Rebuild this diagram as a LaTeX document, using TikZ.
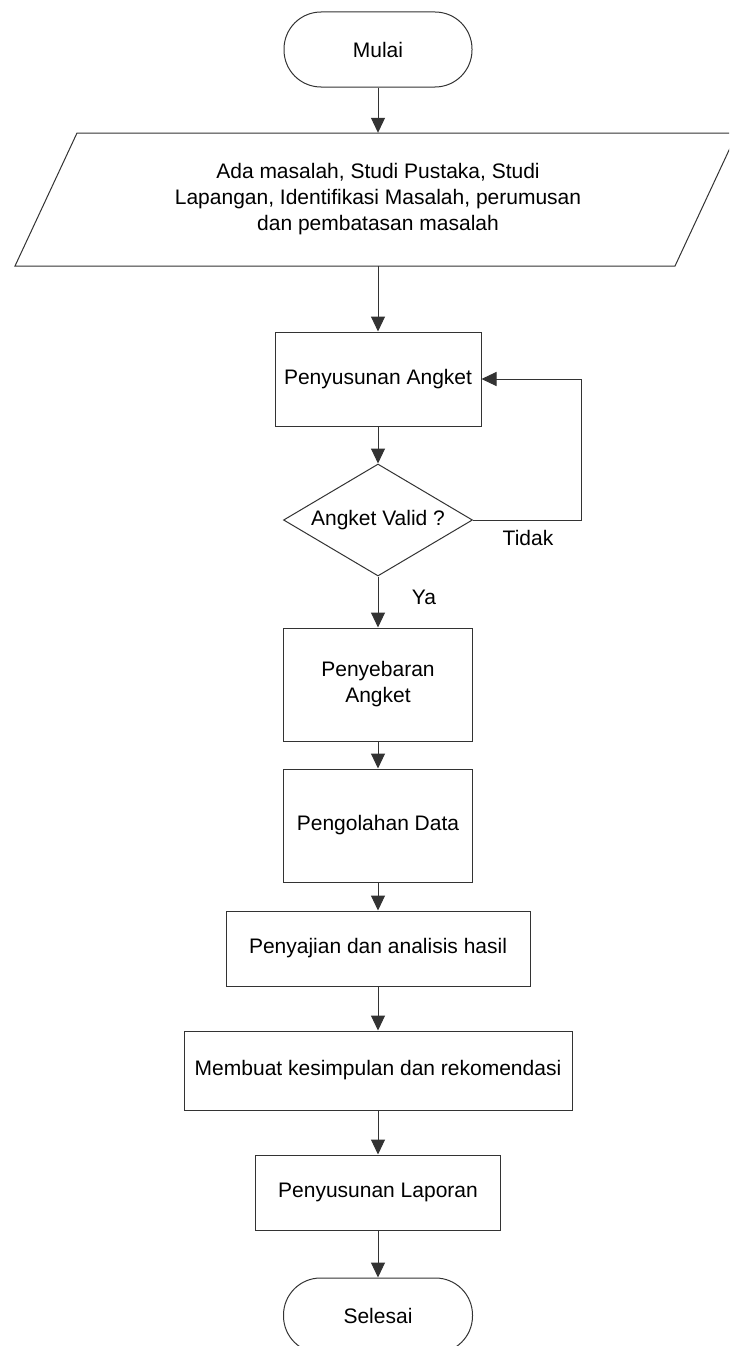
\documentclass[tikz,border=0pt]{standalone}
\usepackage{fontspec}
\setmainfont{Liberation Sans}
\usetikzlibrary{arrows.meta,shapes.geometric}
\begin{document}
\begin{tikzpicture}[x=1pt,y=-1pt,
  line/.style={draw=black!80, line width=1pt},
  txt/.style={font=\fontsize{21}{26}\selectfont, align=center, inner sep=0pt},
  box/.style={line, txt, rectangle},
  term/.style={box, rounded corners=37pt},
  decision/.style={line, txt, diamond, aspect=1.69},
  arr/.style={line, -{Triangle[length=15pt,width=14pt]}}]
\useasboundingbox (0,0) rectangle (729,1346);
\clip (0,0) rectangle (729,1346);
\fill[white] (0,0) rectangle (729,1346);

\node[term, minimum width=188pt, minimum height=75pt] (mulai) at (378,49.5) {Mulai};
\node[txt, minimum width=500pt, minimum height=133pt] (input) at (378,199.5)
  {Ada masalah, Studi Pustaka, Studi\\Lapangan, Identifikasi Masalah, perumusan\\dan pembatasan masalah};
\draw[line] (77,133) -- (737,133) -- (675,266) -- (15,266) -- cycle;
\node[box, minimum width=206pt, minimum height=94pt] (susun) at (378,379) {Penyusunan Angket};
\node[decision, minimum width=189pt, minimum height=112pt] (valid) at (378,520) {Angket Valid ?};
\node[box, minimum width=189pt, minimum height=113pt] (sebar) at (378,684.5) {Penyebaran\\Angket};
\node[box, minimum width=189pt, minimum height=113pt] (olah) at (378,825.5) {Pengolahan Data};
\node[box, minimum width=304pt, minimum height=75pt] (saji) at (378,948.5) {Penyajian dan analisis hasil};
\node[box, minimum width=388pt, minimum height=79pt] (simpul) at (378,1070.5) {Membuat kesimpulan dan rekomendasi};
\node[box, minimum width=245pt, minimum height=75pt] (lapor) at (378,1192.5) {Penyusunan Laporan};
\node[term, minimum width=189pt, minimum height=75pt] (selesai) at (378,1315.5) {Selesai};

\node[txt] (tidak) at (528,538) {Tidak};
\node[txt] (ya) at (424,597) {Ya};

\draw[arr] (mulai.south) -- (input.north);
\draw[arr] (input.south) -- (susun.north);
\draw[arr] (susun.south) -- (valid.north);
\coordinate (loopc) at (581,520);
\draw[arr] (valid.east) -- (loopc) |- (susun.east);
\draw[arr] (valid.south) -- (sebar.north);
\draw[arr] (sebar.south) -- (olah.north);
\draw[arr] (olah.south) -- (saji.north);
\draw[arr] (saji.south) -- (simpul.north);
\draw[arr] (simpul.south) -- (lapor.north);
\draw[arr] (lapor.south) -- (selesai.north);
\end{tikzpicture}
\end{document}
